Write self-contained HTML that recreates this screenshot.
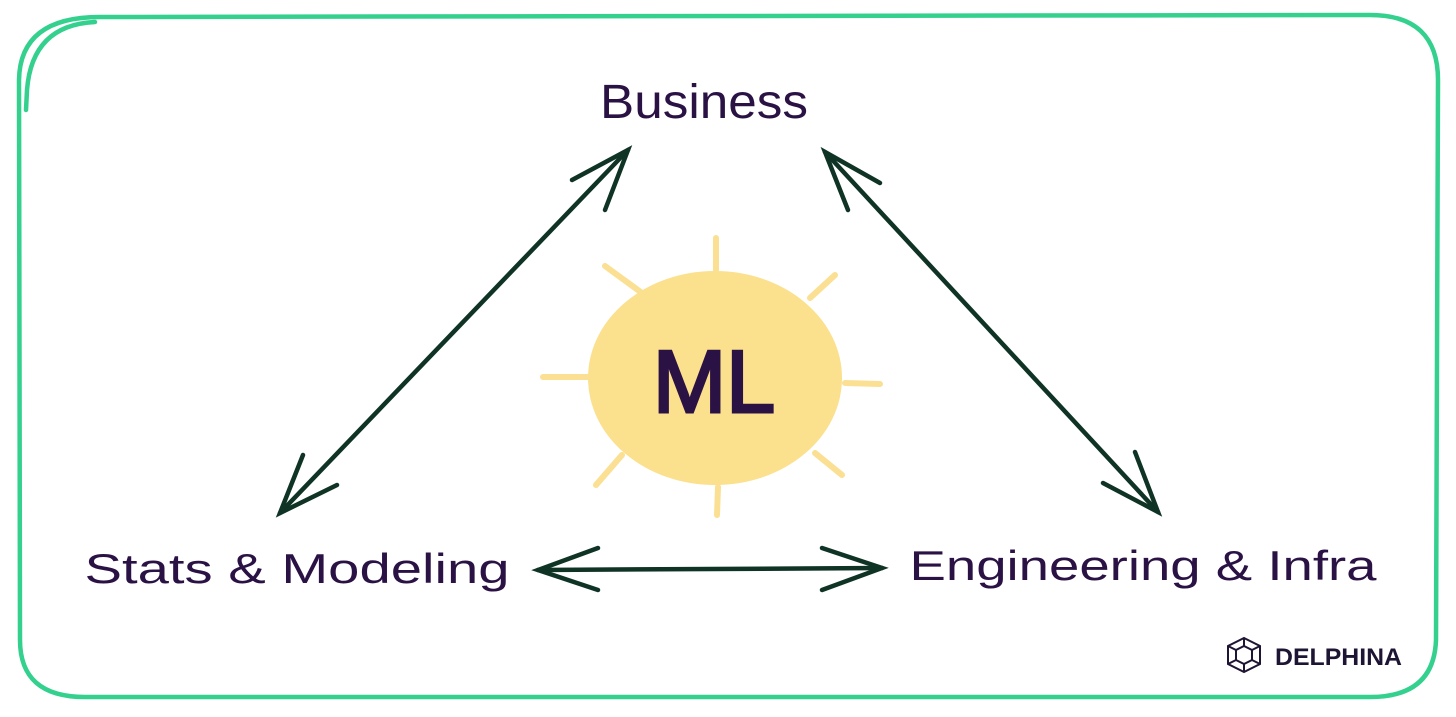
<!DOCTYPE html>
<html><head><meta charset="utf-8"><style>
html,body{margin:0;padding:0;background:#fff;}
svg{display:block;}
</style></head><body>
<svg width="1456" height="717" viewBox="0 0 1456 717" xmlns="http://www.w3.org/2000/svg">
<rect x="0" y="0" width="1456" height="717" fill="#fff"/>
<g fill="none" stroke="#33d08e" stroke-width="4.5" stroke-linecap="round">
<path d="M100 17 L1370 15 Q1438 15 1438 80 L1436 640 Q1434 697 1370 697 L85 697 Q20 697 20 640 L19 80 Q20 17 100 17Z"/>
<path d="M95 22 Q32 25 27 90 L26 110"/>
</g>
<g stroke="#fbe093" stroke-width="6" stroke-linecap="round">
<line x1="716" y1="238" x2="716" y2="270"/>
<line x1="605" y1="266" x2="642" y2="293"/>
<line x1="835" y1="275" x2="810" y2="298"/>
<line x1="543" y1="377" x2="588" y2="377"/>
<line x1="845" y1="383" x2="880" y2="384"/>
<line x1="596" y1="485" x2="622" y2="455"/>
<line x1="842" y1="475" x2="815" y2="453"/>
<line x1="718" y1="487" x2="717" y2="515"/>
</g>
<ellipse cx="715" cy="378" rx="127" ry="107" fill="#fbe08d"/>
<text x="714" y="412" text-anchor="middle" font-family="Liberation Sans, sans-serif" font-size="88" fill="#2b1245" stroke="#2b1245" stroke-width="3">ML</text>
<g stroke="#0f3325" stroke-width="4.5" stroke-linecap="round" fill="none">
<line x1="628" y1="150" x2="280" y2="513"/>
<polyline points="572,180 628,150 605,210"/>
<polyline points="303,455 280,513 337,485"/>
<line x1="825" y1="152" x2="1158" y2="512"/>
<polyline points="880,183 825,152 848,210"/>
<polyline points="1103,483 1158,512 1135,452"/>
<line x1="538" y1="570" x2="882" y2="568"/>
<polyline points="598,548 538,570 598,590"/>
<polyline points="822,548 882,568 822,590"/>
</g>
<g font-family="Liberation Sans, sans-serif" fill="#2b1245">
<text x="600" y="118" font-size="48" textLength="208" lengthAdjust="spacingAndGlyphs">Business</text>
<text x="297" y="583" text-anchor="middle" font-size="42" textLength="425" lengthAdjust="spacingAndGlyphs">Stats &amp; Modeling</text>
<text x="1143" y="580" text-anchor="middle" font-size="42" textLength="467" lengthAdjust="spacingAndGlyphs">Engineering &amp; Infra</text>
<text x="1275" y="665" font-size="24" font-weight="bold" fill="#1e1433" textLength="127" lengthAdjust="spacingAndGlyphs">DELPHINA</text>
</g>
<g stroke="#1e1433" stroke-width="2" fill="none">
<polygon points="1244,638 1260,646 1260,664 1244,672 1228,664 1228,646"/>
<polygon points="1244,646 1252,650 1252,660 1244,664 1236,660 1236,650"/>
<line x1="1244" y1="638" x2="1244" y2="646"/><line x1="1228" y1="646" x2="1236" y2="650"/><line x1="1260" y1="646" x2="1252" y2="650"/>
<line x1="1228" y1="664" x2="1236" y2="660"/><line x1="1260" y1="664" x2="1252" y2="660"/><line x1="1244" y1="672" x2="1244" y2="664"/>
</g>
</svg>
</body></html>
